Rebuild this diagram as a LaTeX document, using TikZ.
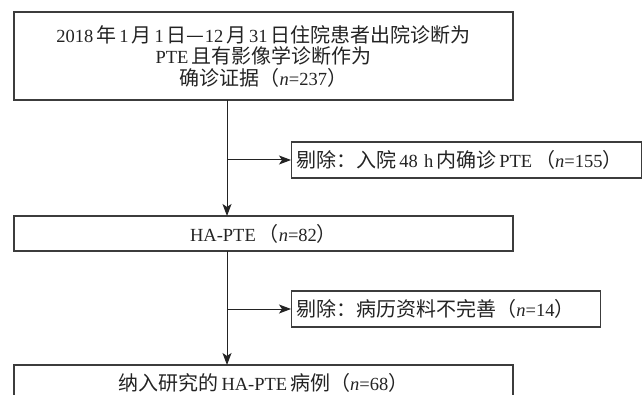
\documentclass[tikz,border=0pt]{standalone}
\usepackage{fontspec}
\setmainfont{Liberation Serif}
\newfontfamily\cjk[Scale=1.08]{Noto Sans CJK SC}
\usetikzlibrary{arrows.meta}
\newcommand{\zh}[1]{{\cjk #1}}
\newcommand{\gp}{\hspace{3pt}}
\definecolor{ink}{RGB}{35,35,35}
\definecolor{edge}{RGB}{60,60,60}
\begin{document}
\begin{tikzpicture}[x=1pt,y=-1pt,
  box/.style={draw=edge,line width=1.1pt,rectangle,inner sep=0pt,text=ink,
    font=\fontsize{18.5}{21.5}\selectfont},
  flow/.style={draw=ink,line width=1pt,-{Stealth[length=12pt,width=9pt,inset=3pt]}}]
\useasboundingbox (0,0) rectangle (644,395);
\node[box,minimum width=499pt,minimum height=88pt,align=center] (top) at (263.5,56)
  {2018\gp\zh{年}\gp 1\gp\zh{月}\gp 1\gp\zh{日—}12\gp\zh{月}\gp 31\gp\zh{日住院患者出院诊断为}\\
   PTE\gp\zh{且有影像学诊断作为}\\
   \zh{确诊证据（}\textit{n}=237\zh{）}};
\node[box,minimum width=499pt,minimum height=35pt] (mid) at (263.5,233.5)
  {HA-PTE\gp\zh{（}\textit{n}=82\zh{）}};
\node[box,minimum width=499pt,minimum height=36pt] (bot) at (263.5,383)
  {\zh{纳入研究的}\gp HA-PTE\gp\zh{病例（}\textit{n}=68\zh{）}};
\node[box,anchor=west,minimum width=350pt,minimum height=36pt,inner xsep=5pt,
  text width=340pt,align=left] (ex1) at (291,160)
  {\zh{剔除：入院}\gp 48 h\gp\zh{内确诊}\gp PTE\gp\zh{（}\textit{n}=155\zh{）}};
\node[box,anchor=west,minimum width=309pt,minimum height=36pt,inner xsep=5pt,
  text width=299pt,align=left] (ex2) at (291,309)
  {\zh{剔除：病历资料不完善（}\textit{n}=14\zh{）}};
\coordinate (s1) at (227,100);
\coordinate (e1) at (227,216);
\coordinate (b1) at (227,160);
\coordinate (s2) at (227,251);
\coordinate (e2) at (227,365);
\coordinate (b2) at (227,309);
\draw[flow] (s1) -- (e1);
\draw[flow] (b1) -- (ex1.west);
\draw[flow] (s2) -- (e2);
\draw[flow] (b2) -- (ex2.west);
\end{tikzpicture}
\end{document}
